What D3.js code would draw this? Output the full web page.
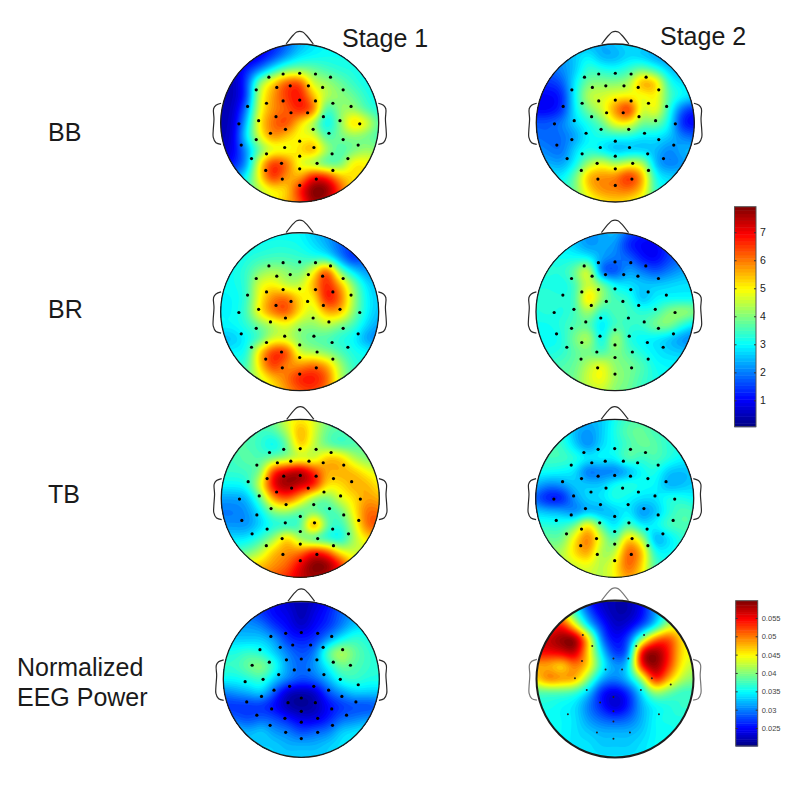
<!DOCTYPE html>
<html>
<head>
<meta charset="utf-8">
<script src="https://cdn.jsdelivr.net/npm/d3@7"></script>
<style>
  html, body { margin: 0; padding: 0; background: #fff; }
  text { font-family: "Liberation Sans", Arial, sans-serif; fill: #1a1a1a; }
</style>
</head>
<body>
<div id="my_dataviz"></div>
<script>
// values, 13 x 13 samples across each head (top row first)
var bbStage1 = [
  [0.5,0.5,0.8,1,1.2,1.8,2.4,2.8,3,3,3,3,3],
  [0.5,0.5,0.6,0.9,1.5,2.2,2.8,3.0,3.1,3.1,3.1,3.1,3.1],
  [0.5,0.6,1.2,2.0,3.0,3.8,4.0,3.8,3.5,3.3,3.2,3.0,3.0],
  [0.5,0.5,1.5,4.0,5.2,6.2,6.3,4.6,4.2,3.8,3.4,3.1,3],
  [0.5,0.5,1.5,4.5,5.7,6.5,6.8,5.5,4.4,4.1,3.8,3.3,3],
  [0.5,0.6,2.0,4.7,5.8,6.2,6.7,6.1,3.5,4.1,4.2,3.6,3.2],
  [0.5,0.7,2.5,5,6.1,6.4,5.3,4.3,3,4,5.3,4.7,3.6],
  [0.5,0.8,2.8,4.7,5.8,5.4,4.9,4.8,3.6,3.9,4.1,3.9,3.5],
  [0.6,0.9,2.2,3.8,4.7,4.8,5.2,5.6,4.3,3.6,3.9,4.2,4],
  [0.8,1.2,2.2,4.9,6.5,6.1,4.8,4.3,3.7,3.8,5,5,4.5],
  [1.5,2,3,5,6.6,5.8,5.6,6.8,6.6,5.5,5.2,5,4.6],
  [2,2.5,3.5,4.4,5,5.3,6.7,7.9,7.8,6.4,5,4.5,4],
  [3,3,4,4.5,5,5.5,6.3,7.6,7.2,6,5,4.5,4]
];
var bbStage2 = [
  [2.5,2.5,2.5,2.5,2.4,2.4,2.6,2.8,2.8,2.8,2.8,2.8,2.8],
  [2,2,2.2,2.6,2.9,2.4,2.4,2.7,2.6,2.3,2.2,2.2,2.2],
  [1.8,1.8,2.1,2.6,3.4,3.2,3.1,3.4,3.8,3.3,2.6,2.3,2.2],
  [1.4,1.4,1.7,2.9,3.9,4,4,4.3,5.6,5.3,3.3,2.8,2.5],
  [1,1,1.3,3,4.4,4.6,4.9,5,4.8,5,3.6,3,2.8],
  [1,1,1.4,2.9,3.9,4.6,5.8,6.6,4.6,4.9,3.3,1.8,1.3],
  [1.7,1.7,2,2.7,3.2,3.8,4.9,5,3.9,3.9,3,1.3,1],
  [1.9,1.8,1.9,2.3,3,3.2,3.2,3.2,2.9,2.9,2.6,2,1.8],
  [2.2,2,1.9,2.7,3.2,2.9,2.5,2.6,2.6,2.5,2.1,2.4,2.5],
  [2.5,2.4,2.3,3,4.2,4.7,4.2,4.6,4.4,2.5,2,2.2,2.5],
  [3,3,2.9,3.8,5.5,5.8,5.9,6.6,5.6,3.2,2.7,2.7,2.8],
  [3.3,3.3,3.3,3.9,5.2,5.8,5.9,6,5.3,3.4,3,3,3],
  [3.4,3.4,3.4,3.8,4.5,5,5.2,5,4.5,3.5,3.2,3.2,3.2]
];
var brStage1 = [
  [3,3,3,3,3,3,3,2.6,2.3,2.0,2,2,2],
  [3.1,3.1,3.1,3.1,3.2,3.2,3.1,2.8,2.4,1.8,1.5,1.6,1.8],
  [3,3,3.2,3.4,3.5,3.5,3.4,3.3,3.2,2.2,1.4,1.8,2],
  [3,3.1,3.4,4,4.3,4.1,3.9,4.8,6.3,4,2.8,2.2,2.2],
  [3,3.1,3.4,4.7,5,4.5,4.5,5.5,6.7,5.6,4,2.8,2.5],
  [3,3,3.4,4.9,5.9,6.1,5.2,5,6.8,6.1,4.3,3,2.6],
  [3,3,3.5,5,6,6.3,5.2,4.6,5.6,5.5,4.1,3,2.5],
  [3,3,3.3,3.9,4.4,4.8,4.2,4.1,4.4,4,3.5,2.7,2.3],
  [2.5,2.6,3,3.6,4.6,4.6,4,3.7,3.6,3.3,3,2.3,2],
  [2.8,3,3.2,5.2,6.5,6.4,4.6,4.3,4,3.6,3.2,3,2.8],
  [3.2,3.3,3.5,5.2,6.5,5.9,5.8,6.1,5.6,4.3,3.4,3.2,3],
  [3.5,3.5,3.8,4.6,5.4,6,6.7,6.8,6.2,4.5,3.6,3.2,3],
  [3.6,3.6,3.8,4.4,5,5.7,6.2,6.4,5.8,4.5,3.6,3.2,3]
];
var brStage2 = [
  [2.6,2.6,2.6,2.5,2.3,2.3,2.5,1.8,1.3,1.3,1.3,1.5,1.7],
  [3,3,2.9,2.6,2.2,2.3,2.2,1.3,1,1,1.4,1.7,2],
  [3.2,3.2,3.1,3.1,3,2.3,2,1.8,1.2,1,1.5,1.9,2],
  [3.2,3.3,3.3,3.8,4.7,1.9,1.6,2.3,2,1.7,2,2.3,2.5],
  [3.2,3.2,3.1,3.5,4.6,3.9,3,2.8,2.6,2.6,2.7,2.8,2.8],
  [3.3,3.4,3.3,3.5,5.3,4.1,3.5,3.3,2.5,2.9,3,3,3],
  [3.2,3.3,3.2,3.5,4.3,3.3,3.6,3.5,3.3,3.4,4,4.2,4],
  [3.1,3.1,3.3,3.6,3.7,2.8,3.5,3.4,3.4,3.9,4,3.3,2.8],
  [3,3,3.2,3.9,4.4,3,4.3,3.3,3,2.9,2.6,2.2,2],
  [3.2,3.2,3.3,3.7,3.9,3.5,4,3.6,3.2,2.9,2.7,2.6,2.6],
  [3.4,3.4,3.6,3.8,4.4,4.8,4.1,3.9,3.6,3.1,3,3,3],
  [3.5,3.5,3.7,3.9,4.6,4.9,4.2,3.9,3.5,3.2,3,3,3],
  [3.5,3.5,3.7,3.9,4.3,4.5,4,3.8,3.4,3.2,3,3,3]
];
var tbStage1 = [
  [3.7,3.7,3.7,3.7,3.9,4.7,5,4.7,4,3.8,3.7,3.7,3.7],
  [3.7,3.7,3.7,3.5,3.6,4.4,5.6,4.7,3.8,3.6,3.7,3.7,3.7],
  [3.7,3.7,3.6,3.4,3,3.8,5.4,4.5,3.8,3.5,3.6,3.8,3.9],
  [3.5,3.5,3.7,3.6,3.9,4.2,4.6,4.5,5.4,5.3,4.4,4,3.9],
  [3.4,3.4,3.5,4,6.5,7.2,7.5,6.6,5.6,5.6,5.4,4.9,4.6],
  [3,3,3.2,4.7,7,7.7,7.3,6.8,5.2,5.2,5.6,5.5,5],
  [2.3,2.3,2.5,3.7,5.7,6.3,5.4,4.2,3.9,4.7,5.2,5.7,5.5],
  [2,2,2.2,2.9,4,4.2,3.7,3.9,3.5,3.8,5,6.1,6],
  [2.2,2.2,2.2,2.7,3.2,3.3,3.6,5.9,3.8,3.4,4.6,6.1,6.3],
  [2.8,2.8,2.9,3.4,4.2,5.3,4.2,3.6,3.3,3.1,4.3,5.2,5.2],
  [3.6,3.6,3.8,4.4,5.4,5.8,6,6.8,6.3,5,4.6,4.5,4.5],
  [4.8,4.8,5,5.4,5.8,6.2,7.1,7.9,7.8,6.7,5.2,4.8,4.6],
  [5,5,5.4,5.8,6.3,6.7,7.3,7.6,7.2,6.3,5.3,4.8,4.6]
];
var tbStage2 = [
  [3.3,3.3,3.2,2.9,2.5,2.6,3.1,3.5,3.6,3.6,3.6,3.6,3.6],
  [3.4,3.4,3.3,2.5,2.2,2.6,3.2,3.7,3.8,3.5,3.4,3.4,3.4],
  [3.5,3.5,3.4,2.7,2.1,2.7,3.1,3.5,3.8,3.7,3.3,3.3,3.3],
  [3.5,3.5,3.5,3.3,2.9,3,3,3.7,3.4,3.6,3.3,3,3],
  [3.1,3.1,3,2.8,1.9,2,2,2.4,3,3.2,2.6,2.5,2.6],
  [2.5,2.1,2.2,2.6,2.6,2.6,3.1,3.3,3.1,3,2.4,2.5,2.7],
  [1.8,1.2,1.2,2.2,2.7,2.8,3.2,3,2.8,2.8,3.2,3.2,3],
  [2.7,2.5,2.4,2.1,2.5,2.4,2.6,2.9,2.2,2.5,3.2,3.6,3.5],
  [3.3,3.3,3.3,3.8,5.1,3.6,2.8,3.6,2.9,3,3.5,3.6,3.6],
  [3.8,3.8,3.8,5,6,4.6,3.6,5.3,4.4,2.4,2.8,3.3,3.6],
  [4.2,4.2,4.3,5.2,5.7,4.3,4.4,6.2,5.5,3.2,3,3.3,3.6],
  [4.4,4.4,4.4,4.6,4.8,4.4,5,6.2,5.3,3.6,3.2,3.3,3.5],
  [4.4,4.4,4.4,4.5,4.6,4.4,4.9,5.7,5,3.6,3.2,3.3,3.5]
];
// normalized power, in thousandths
var powerStage1 = [
  [27,27,27,27,25,23,22,23,25,28,30,30,30],
  [29,29,29,27,25,24,22,24,26,29,31,32,33],
  [31,31,31,30,27,25,23,25,27,30,33,34,34],
  [33,33,33,33,31,27,26,27,31,35,37,36,35],
  [36,36,37,36,33,30,28,30,38,42,39,37,36],
  [37,37,39,40,36,31,29,31,35,39,38,37,36],
  [35,35,36,37,33,30,28,29,32,36,37,36,36],
  [30,31,32,33,28,23,22,23,28,31,33,33,33],
  [27,27,27,27,25,22,21,22,25,27,28,28,29],
  [30,29,28,29,28,26,24,24,26,29,30,31,31],
  [33,33,32,33,31,30,28,29,30,33,34,35,35],
  [34,34,33,33,33,32,32,32,33,34,35,35,35],
  [34,34,34,34,33,33,33,33,33,34,35,35,35]
];
var powerStage2 = [
  [46,46,42,35,26,23,22,22,25,32,38,38,38],
  [50,50,46,37,29,24,22,22,25,31,37,40,40],
  [50,52,54,45,34,27,23,24,28,34,42,44,44],
  [56,57,59,59,46,30,25,28,40,50,52,46,42],
  [55,55,56,57,46,34,27,30,55,59,54,46,44],
  [48,48,46,50,46,36,31,34,54,59,53,45,42],
  [46,50,49,48,40,32,30,33,41,54,48,42,40],
  [38,38,38,37,33,26,24,27,34,41,39,37,37],
  [36,36,35,34,30,26,23,26,32,35,36,37,37],
  [35,35,35,34,31,29,28,29,32,35,36,36,36],
  [35,35,35,34,33,32,32,32,33,35,35,36,36],
  [35,35,35,34,34,33,33,33,34,35,36,36,36],
  [35,35,35,35,34,34,34,34,34,35,36,36,36]
];

// electrode positions in head units (-1 to 1, centre of the head is 0,0)
var electrodes = [
  [-.39,-.58],[-.21,-.62],[0,-.63],[.20,-.62],[.39,-.58],
  [-.55,-.42],[-.29,-.45],[-.12,-.47],[.11,-.47],[.29,-.45],[.55,-.42],
  [-.66,-.21],[-.42,-.25],[-.21,-.28],[0,-.29],[.20,-.28],[.42,-.25],[.65,-.21],
  [-.52,-.03],[-.30,-.08],[-.11,-.13],[.10,-.13],[.30,-.08],[.51,-.03],
  [-.77,.01],[.76,.01],
  [-.37,.13],[-.18,.08],[.17,.08],[.37,.13],
  [-.55,.21],[0,.23],[.55,.21],
  [-.74,.28],[-.19,.31],[.18,.31],[.74,.28],
  [-.42,.39],[0,.42],[.41,.39],
  [-.61,.45],[-.23,.51],[.22,.51],[.61,.45],
  [-.43,.60],[0,.58],[.42,.60],
  [-.22,.71],[.21,.71],
  [0,.79]
];
var electrodesPower1 = [
  [-.39,-.55],[-.20,-.59],[0,-.60],[.21,-.59],[.39,-.55],
  [-.53,-.38],[-.27,-.41],[-.11,-.44],[.12,-.44],[.28,-.41],[.53,-.38],
  [-.63,-.18],[-.41,-.22],[-.19,-.25],[0,-.26],[.20,-.25],[.41,-.22],[.63,-.18],
  [-.49,0],[-.29,-.06],[-.09,-.12],[.10,-.12],[.29,-.06],[.50,0],
  [-.72,.03],[.73,.07],
  [-.35,.14],[-.15,.09],[.16,.09],[.35,.14],
  [-.51,.22],[0,.24],[.52,.22],
  [-.70,.29],[-.17,.30],[.18,.30],[.70,.29],
  [-.38,.38],[0,.41],[.39,.38],
  [-.57,.46],[-.21,.50],[.21,.50],[.58,.46],
  [-.40,.59],[0,.55],[.40,.59],
  [-.20,.68],[.21,.68],
  [0,.76]
];
var electrodesPower2 = [
  [-.41,-.56],[.37,-.56],[-.29,-.42],[.27,-.42],[-.02,-.26],[.17,-.26],
  [-.42,-.23],[-.12,-.12],[.09,-.12],[-.51,-.01],[.47,-.01],[.71,.07],
  [-.36,.14],[.33,.14],[-.02,.23],[-.19,.30],[-.02,.41],[-.60,.45],[.56,.45],
  [-.02,.54],[-.23,.68],[.19,.68],[-.02,.76]
];

// head outline in head units
var noseOutline = [[-.172,-1],[-.08,-1.114],[-.038,-1.151],[0,-1.16],[.038,-1.151],[.08,-1.114],[.172,-1]];
var earOutline = [[-.995,-.25],[-1.06,-.225],[-1.09,-.18],[-1.085,-.05],[-1.095,.1],[-1.095,.18],[-1.06,.25],[-.995,.27]];

var valueDomain = [0.06, 7.91];
var valueTicks = [1, 2, 3, 4, 5, 6, 7];
var powerDomain = [20.1, 59.7];
var powerTicks = [25, 30, 35, 40, 45, 50, 55];
var powerTickLabels = ["0.025", "0.03", "0.035", "0.04", "0.045", "0.05", "0.055"];

var jetColors = ["#00007f", "#0000ff", "#007fff", "#00ffff", "#7fff7f", "#ffff00", "#ff7f00", "#ff0000", "#7f0000"];
var jetStops = [0, 0.125, 0.25, 0.375, 0.5, 0.625, 0.75, 0.875, 1];

// append the svg object to the body of the page
var svg = d3.select("#my_dataviz")
  .append("svg")
    .attr("width", 800)
    .attr("height", 790);

var jet = d3.scaleLinear().domain(jetStops).range(jetColors).clamp(true);

// one entry per head
var heads = [
  {grid: bbStage1, cx: 299.7, cy: 123, r: 79, dots: electrodes, domain: valueDomain},
  {grid: bbStage2, cx: 615.3, cy: 123, r: 79, dots: electrodes, domain: valueDomain},
  {grid: brStage1, cx: 299.7, cy: 311.7, r: 79, dots: electrodes, domain: valueDomain},
  {grid: brStage2, cx: 615, cy: 311.7, r: 79, dots: electrodes, domain: valueDomain},
  {grid: tbStage1, cx: 300.3, cy: 498.3, r: 79, dots: electrodes, domain: valueDomain},
  {grid: tbStage2, cx: 614.7, cy: 498.3, r: 79, dots: electrodes, domain: valueDomain},
  {grid: powerStage1, cx: 301.3, cy: 679.3, r: 78, dots: electrodesPower1, domain: powerDomain},
  {grid: powerStage2, cx: 615, cy: 679, r: 78.5, dots: electrodesPower2, domain: powerDomain, faint: true}
];

// catmull-rom through four samples, so the read values stay at their sample points
function cubic(p0, p1, p2, p3, t) {
  return 0.5 * (2 * p1 + (p2 - p0) * t + (2 * p0 - 5 * p1 + 4 * p2 - p3) * t * t + (3 * p1 - p0 - 3 * p2 + p3) * t * t * t);
}

// resample a 13 x 13 table to a finer one so the contours come out smooth
var fine = 8;
function resample(grid) {
  var n = grid.length, size = (n - 1) * fine + 1;
  var out = new Float64Array(size * size);
  function at(j, i) {
    return grid[Math.max(0, Math.min(n - 1, j))][Math.max(0, Math.min(n - 1, i))];
  }
  for (var j = 0; j < size; j++) {
    var gy = j / fine, j0 = Math.min(Math.floor(gy), n - 2), fy = gy - j0;
    for (var i = 0; i < size; i++) {
      var gx = i / fine, i0 = Math.min(Math.floor(gx), n - 2), fx = gx - i0;
      var col = [-1, 0, 1, 2].map(function(dj) {
        return cubic(at(j0 + dj, i0 - 1), at(j0 + dj, i0), at(j0 + dj, i0 + 1), at(j0 + dj, i0 + 2), fx);
      });
      out[j * size + i] = cubic(col[0], col[1], col[2], col[3], fy);
    }
  }
  d3.blur2({data: out, width: size, height: size}, 1.5);
  return {values: out, size: size};
}

heads.forEach(function(head, index) {
  var x = d3.scaleLinear().domain([-1, 1]).range([head.cx - head.r, head.cx + head.r]);
  var y = d3.scaleLinear().domain([-1, 1]).range([head.cy - head.r, head.cy + head.r]);
  var level = d3.scaleLinear().domain(head.domain).range([0, 1]);
  var g = svg.append("g");

  svg.append("clipPath")
    .attr("id", "clip" + index)
    .append("circle")
      .attr("cx", head.cx)
      .attr("cy", head.cy)
      .attr("r", head.r);

  // colour field
  var fineGrid = resample(head.grid);
  var steps = 64;
  var thresholds = d3.range(steps).map(function(i) {
    return level.invert(i / steps);
  });
  var contours = d3.contours()
    .size([fineGrid.size, fineGrid.size])
    .thresholds(thresholds)(fineGrid.values);
  var k = 2 * head.r * 1.02 / (fineGrid.size - 1);
  var path = d3.geoPath(d3.geoIdentity()
    .scale(k)
    .translate([head.cx - head.r * 1.02 - 0.5 * k, head.cy - head.r * 1.02 - 0.5 * k]));

  var field = g.append("g").attr("clip-path", "url(#clip" + index + ")");
  field.append("circle")
    .attr("cx", head.cx)
    .attr("cy", head.cy)
    .attr("r", head.r)
    .attr("fill", jet(0));
  field.selectAll("path")
    .data(contours)
    .enter()
    .append("path")
      .attr("d", path)
      .attr("fill", function(d) { return jet(level(d.value) + 0.5 / steps); });

  // nose, ears and outline
  var outlineColor = head.faint ? "#777" : "#2a2a2a";
  var outline = d3.line()
    .x(function(d) { return x(d[0]); })
    .y(function(d) { return y(d[1]); })
    .curve(d3.curveCatmullRom);
  g.append("path")
    .attr("d", outline(noseOutline))
    .attr("fill", "none")
    .attr("stroke", outlineColor)
    .attr("stroke-width", 1.2);
  g.append("line")
    .attr("x1", x(noseOutline[0][0]))
    .attr("x2", x(noseOutline[noseOutline.length - 1][0]))
    .attr("y1", y(-0.995))
    .attr("y2", y(-0.995))
    .attr("stroke", "#999")
    .attr("stroke-width", 1);
  [1, -1].forEach(function(side) {
    var ear = earOutline.map(function(p) { return [p[0] * side, p[1]]; });
    g.append("path")
      .attr("d", outline(ear))
      .attr("fill", "none")
      .attr("stroke", outlineColor)
      .attr("stroke-width", 1.2);
  });
  g.append("circle")
    .attr("cx", head.cx)
    .attr("cy", head.cy)
    .attr("r", head.r)
    .attr("fill", "none")
    .attr("stroke", "#1c1c1c")
    .attr("stroke-width", head.faint ? 2 : 1.3);

  // electrodes
  g.selectAll(".dot")
    .data(head.dots)
    .enter()
    .append("circle")
      .attr("class", "dot")
      .attr("cx", function(d) { return x(d[0]); })
      .attr("cy", function(d) { return y(d[1]); })
      .attr("r", head.faint ? 1 : 1.6)
      .attr("fill", head.faint ? "#222" : "#000");
});

// colour bars
function colorBar(domain, ticks, labels, left, right, top, bottom, fontSize, textColor) {
  var scale = d3.scaleLinear().domain(domain).range([bottom, top]);
  var n = 64, step = (domain[1] - domain[0]) / n;
  var bar = svg.append("g");
  bar.selectAll("rect")
    .data(d3.range(n))
    .enter()
    .append("rect")
      .attr("x", left)
      .attr("width", right - left)
      .attr("y", function(i) { return scale(domain[0] + (i + 1) * step); })
      .attr("height", (bottom - top) / n + 0.5)
      .attr("fill", function(i) { return jet((i + 0.5) / n); });
  bar.append("rect")
    .attr("x", left)
    .attr("y", top)
    .attr("width", right - left)
    .attr("height", bottom - top)
    .attr("fill", "none")
    .attr("stroke", "#555");

  var rightAxis = bar.append("g")
    .attr("transform", "translate(" + right + ",0)")
    .call(d3.axisRight(scale)
      .tickValues(ticks)
      .tickSize(-2)
      .tickPadding(4)
      .tickFormat(function(d, i) { return labels[i]; }));
  rightAxis.select(".domain").remove();
  rightAxis.selectAll("line").attr("stroke", "#333");
  rightAxis.selectAll("text")
    .style("font-family", '"Liberation Sans", Arial, sans-serif')
    .style("font-size", fontSize + "px")
    .style("fill", textColor);

  var leftAxis = bar.append("g")
    .attr("transform", "translate(" + left + ",0)")
    .call(d3.axisLeft(scale).tickValues(ticks).tickSize(-2).tickFormat(""));
  leftAxis.select(".domain").remove();
  leftAxis.selectAll("line").attr("stroke", "#333");
}
colorBar(valueDomain, valueTicks, valueTicks.map(String), 734.5, 756, 206.7, 426.7, 10.5, "#222");
colorBar(powerDomain, powerTicks, powerTickLabels, 735.7, 757.7, 600.7, 746, 7.5, "#444");

// labels
var labelText = [
  ["Stage 1", 342, 47], ["Stage 2", 660, 45],
  ["BB", 48, 141], ["BR", 48, 318], ["TB", 48, 503],
  ["Normalized", 17, 676], ["EEG Power", 17, 706]
];
svg.selectAll(".label")
  .data(labelText)
  .enter()
  .append("text")
    .attr("class", "label")
    .attr("x", function(d) { return d[1]; })
    .attr("y", function(d) { return d[2]; })
    .attr("font-size", 25)
    .text(function(d) { return d[0]; });
</script>
</body>
</html>
